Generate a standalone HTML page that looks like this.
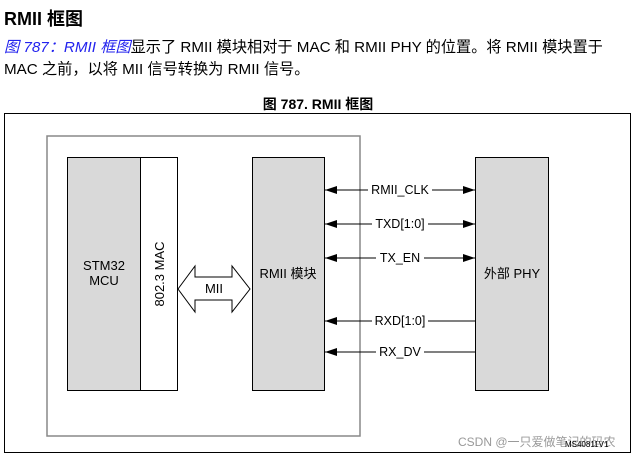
<!DOCTYPE html>
<html><head><meta charset="utf-8"><style>
body{margin:0;width:639px;height:458px;background:#fff;overflow:hidden;font-family:"Liberation Sans","Noto Sans CJK SC",sans-serif;position:relative}
.t{position:absolute;white-space:nowrap}
</style></head><body>
<div class="t" style="left:4px;top:5px;font-size:18px;font-weight:bold">RMII 框图</div>
<div class="t" style="left:4px;top:37px;font-size:15.2px;line-height:22px"><span style="color:#2222ee;font-style:italic">图 787：RMII 框图</span>显示了 RMII 模块相对于 MAC 和 RMII PHY 的位置。将 RMII 模块置于<br>MAC 之前，以将 MII 信号转换为 RMII 信号。</div>
<div class="t" style="left:0;width:636px;text-align:center;top:94px;font-size:14px;font-weight:bold">图 787. RMII 框图</div>
<svg style="position:absolute;left:0;top:0" width="639" height="458" font-family="Liberation Sans, Noto Sans CJK SC, sans-serif" font-size="13">
<rect x="4.5" y="113.5" width="626" height="339" fill="none" stroke="#000"/>
<rect x="47" y="136" width="313" height="300" fill="none" stroke="#888" stroke-width="1.5"/>
<rect x="67.5" y="157.5" width="73" height="233" fill="#d9d9d9" stroke="#000"/>
<rect x="140.5" y="157.5" width="37" height="233" fill="#fff" stroke="#000"/>
<rect x="252.5" y="157.5" width="72" height="233" fill="#d9d9d9" stroke="#000"/>
<rect x="475.5" y="157.5" width="73" height="233" fill="#d9d9d9" stroke="#000"/>
<text x="104" y="270" text-anchor="middle">STM32</text>
<text x="104" y="285" text-anchor="middle">MCU</text>
<text transform="translate(164,274) rotate(-90)" text-anchor="middle">802.3 MAC</text>
<text x="288" y="278" text-anchor="middle">RMII 模块</text>
<text x="512" y="278" text-anchor="middle">外部 PHY</text>
<polygon points="178,289 195,266 195,277 232,277 232,266 250,289 232,312 232,300 195,300 195,312" fill="#fff" stroke="#000"/>
<text x="214" y="293" text-anchor="middle">MII</text>
<g stroke="#000">
<line x1="325" y1="190" x2="475" y2="190"/><line x1="325" y1="224" x2="475" y2="224"/><line x1="325" y1="258" x2="475" y2="258"/><line x1="325" y1="321" x2="475" y2="321"/><line x1="325" y1="352" x2="475" y2="352"/>
</g>
<g fill="#000">
<polygon points="325,190 337,186 337,194"/><polygon points="475,190 463,186 463,194"/>
<polygon points="325,224 337,220 337,228"/><polygon points="475,224 463,220 463,228"/>
<polygon points="325,258 337,254 337,262"/><polygon points="475,258 463,254 463,262"/>
<polygon points="325,321 337,317 337,325"/><polygon points="325,352 337,348 337,356"/>
</g>
<g font-size="12.5">
<rect x="368" y="183" width="64" height="14" fill="#fff"/><text x="400" y="194" text-anchor="middle">RMII_CLK</text>
<rect x="372" y="217" width="56" height="14" fill="#fff"/><text x="400" y="228" text-anchor="middle">TXD[1:0]</text>
<rect x="376" y="251" width="48" height="14" fill="#fff"/><text x="400" y="262" text-anchor="middle">TX_EN</text>
<rect x="372" y="314" width="56" height="14" fill="#fff"/><text x="400" y="325" text-anchor="middle">RXD[1:0]</text>
<rect x="376" y="345" width="48" height="14" fill="#fff"/><text x="400" y="356" text-anchor="middle">RX_DV</text>
</g>
<text x="458" y="446" font-size="12" fill="#999">CSDN @一只爱做笔记的码农</text>
<text x="565" y="447" font-size="8" fill="#000">MS40811V1</text>
</svg>
</body></html>
